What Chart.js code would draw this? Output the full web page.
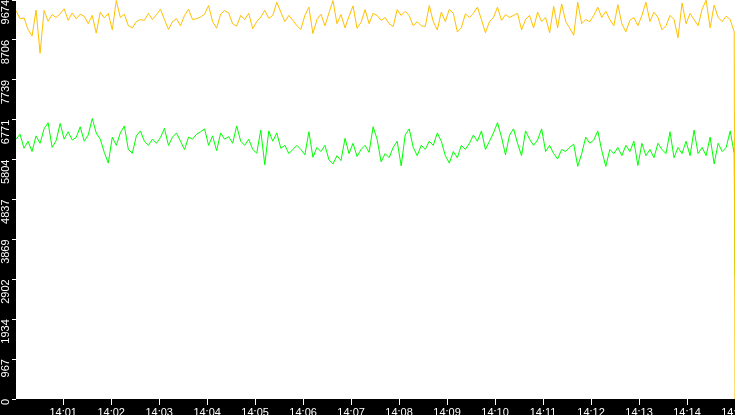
<!DOCTYPE html>
<html>
<head>
<meta charset="utf-8">
<script src="https://cdn.jsdelivr.net/npm/chart.js@4.4.1/dist/chart.umd.min.js"></script>
<style>
  html, body { margin: 0; padding: 0; background: #000; overflow: hidden; }
  #chart { display: block; background: #000; }
</style>
</head>
<body>
<canvas id="chart" width="735" height="415"></canvas>
<script>
// regular samples from 14:00:01 to 14:14:59, then the drop at 14:15:00 (seconds after 14:00)
const sampleStart = 1
const sampleEnd = 899
const endTime = 900

const yellowSeries = [
  9420, 9220, 9240, 8960, 8800, 9430, 8380, 9420, 9160, 9320,
  9250, 9340, 9460, 9180, 9360, 9220, 9330, 9280, 9100, 9300,
  8870, 9380, 9240, 9350, 8950, 9660, 9250, 9330, 9050, 9000,
  9150, 9200, 9180, 9350, 9200, 9320, 9450, 9200, 8960, 9150,
  9220, 9050, 9300, 9450, 9200, 9220, 9260, 9330, 9540, 9150,
  8990, 9330, 9420, 9360, 9100, 9040, 9300, 9200, 9350, 8980,
  9150, 9260, 9420, 9230, 9300, 9620, 9380, 9150, 9300, 9180,
  9050, 8960, 9300, 9500, 8860, 9200, 9330, 9050, 9360, 9660,
  9100, 9320, 9000, 9280, 9530, 8990, 9130, 9440, 9100, 9350,
  9300, 9180, 9250, 9100, 9030, 9440, 9300, 9400, 9300, 9050,
  9150, 9050, 9030, 9540, 9150, 8950, 9380, 9150, 9450, 9350,
  8900, 9000, 9340, 9250, 9350, 9500, 9200, 8880, 9150, 9250,
  9500, 9180, 9320, 9250, 9300, 9350, 8950, 9200, 9300, 9000,
  9380, 9150, 9250, 8880, 9520, 9000, 9580, 9150, 9000, 8820,
  9620, 9100, 9200, 9150, 9300, 9500, 9250, 9400, 9200, 9050,
  9560, 9100, 8900, 9180, 9250, 9050, 9300, 9620, 9150, 9380,
  9250, 8950, 9050, 9300, 9200, 8760, 9600, 9100, 9350, 9200,
  9050, 9450, 9670, 9000, 9550, 9250, 9150, 9280, 9200, 8900
]
const yellowLast = 0

const greenSeries = [
  6300, 6420, 6080, 6250, 6000, 6380, 6200, 6550, 6700, 6100,
  6260, 6680, 6300, 6480, 6280, 6340, 6600, 6250, 6400, 6800,
  6450, 6300, 5980, 5720, 6350, 6150, 6450, 6620, 6050, 5960,
  6380, 6500, 6250, 6150, 6300, 6200, 6340, 6560, 6150, 6350,
  6450, 6250, 6050, 6350, 6300, 6420, 6480, 6550, 6150, 6380,
  6020, 6450, 6300, 6360, 6200, 6620, 6250, 6150, 6300, 6050,
  5960, 6520, 5680, 6500, 6250, 6450, 6080, 6150, 5950, 6050,
  6150, 6050, 5920, 6480, 5860, 6100, 6000, 6150, 5800, 5700,
  5900, 5780, 6320, 5950, 6200, 5880, 6050, 6150, 5980, 6600,
  6300, 5750, 5950, 5850, 6100, 6250, 5650, 6400, 6550, 6100,
  5900, 6150, 6050, 6250, 6150, 6450, 6250, 5900, 5720, 6000,
  5850, 6150, 6050, 6200, 6400, 6250, 6500, 6050, 6250, 6450,
  6700, 6350, 5920, 6400, 6550, 6200, 5900, 6500, 6300, 6150,
  6280, 6550, 6000, 6150, 5950, 5820, 6050, 6000, 6100, 6180,
  5640, 5950, 6350, 6200, 6280, 6500, 6020, 5640, 6050, 5950,
  6100, 5900, 6150, 6000, 6250, 5660, 6200, 5900, 6050, 5850,
  6200, 6050, 5950, 6480, 5850, 6100, 5950, 6250, 5900, 6520,
  5950, 6100, 5900, 6350, 5700, 6200, 6000, 6100, 6500, 5950
]
const greenLast = 2960

const yTickValues = [0, 967.4, 1934.8, 2902.2, 3869.6, 4837, 5804.4, 6771.8, 7739.2, 8706.6, 9674]
const yTickLabels = ['0', '967', '1934', '2902', '3869', '4837', '5804', '6771', '7739', '8706', '9674']
const xTickValues = [60, 120, 180, 240, 300, 360, 420, 480, 540, 600, 660, 720, 780, 840, 900]
const xTickLabels = ['14:01', '14:02', '14:03', '14:04', '14:05', '14:06', '14:07', '14:08',
                     '14:09', '14:10', '14:11', '14:12', '14:13', '14:14', '14:15']

function toPoints(series, last) {
    const step = (sampleEnd - sampleStart) / (series.length - 1)
    const pts = series.map((v, i) => ({x: sampleStart + i * step, y: v}))
    pts.push({x: endTime, y: last})
    return pts
}

const plotBackground = {
    id: 'plotBackground',
    beforeDraw(chart) {
        const {ctx, chartArea} = chart
        ctx.save()
        ctx.fillStyle = '#000'
        ctx.fillRect(0, 0, chart.width, chart.height)
        ctx.fillStyle = '#fff'
        ctx.fillRect(chartArea.left, chartArea.top, chartArea.right - chartArea.left, chartArea.bottom - chartArea.top)
        ctx.restore()
    }
}

const tickFont = {family: '"Liberation Sans", Arial, sans-serif', size: 11}

new Chart(document.getElementById('chart'), {
    type: 'line',
    data: {
        datasets: [
            {
                data: toPoints(yellowSeries, yellowLast),
                borderColor: '#ffc000',
                borderWidth: 1,
                pointRadius: 0,
                tension: 0,
            },
            {
                data: toPoints(greenSeries, greenLast),
                borderColor: '#00ff00',
                borderWidth: 1,
                pointRadius: 0,
                tension: 0,
            },
        ],
    },
    options: {
        responsive: false,
        animation: false,
        events: [],
        layout: {padding: 0},
        plugins: {
            legend: {display: false},
            tooltip: {enabled: false},
        },
        scales: {
            x: {
                type: 'linear',
                position: 'bottom',
                min: 1,
                max: endTime,
                grid: {drawOnChartArea: false, color: '#fff', tickLength: 6},
                border: {display: false},
                ticks: {
                    color: '#fff',
                    font: tickFont,
                    padding: 1,
                    maxRotation: 0,
                    autoSkip: false,
                    callback: (value) => xTickLabels[xTickValues.indexOf(value)],
                },
                afterBuildTicks: (scale) => {
                    scale.ticks = xTickValues.map(v => ({value: v}))
                },
                afterFit: (scale) => {
                    scale.height = 16
                    scale.paddingLeft = 0
                    scale.paddingRight = 0
                },
            },
            y: {
                position: 'left',
                min: 0,
                max: 9674,
                grid: {drawOnChartArea: false, color: '#fff', tickLength: 4},
                border: {display: false},
                ticks: {
                    color: '#fff',
                    font: tickFont,
                    padding: 1,
                    minRotation: 90,
                    maxRotation: 90,
                    align: 'end',
                    autoSkip: false,
                    callback: (value) => yTickLabels[yTickValues.indexOf(value)],
                },
                afterBuildTicks: (scale) => {
                    scale.ticks = yTickValues.map(v => ({value: v}))
                },
                afterFit: (scale) => {
                    scale.width = 16
                    scale.paddingTop = 0
                    scale.paddingBottom = 0
                },
            },
        },
    },
    plugins: [plotBackground],
})
</script>
</body>
</html>
